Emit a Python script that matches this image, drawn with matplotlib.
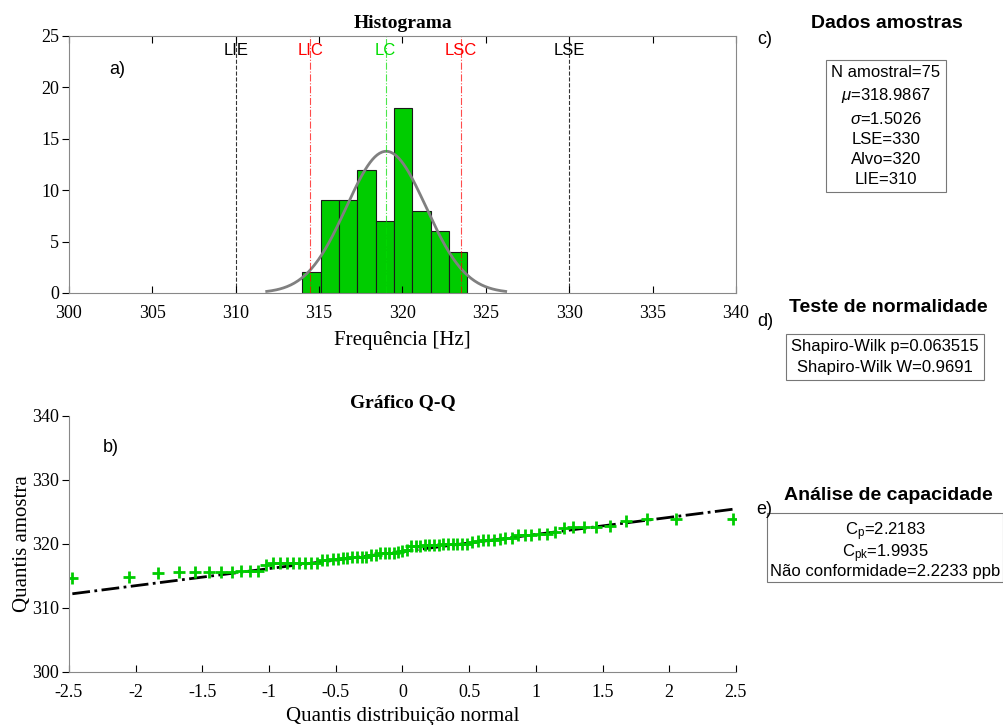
import numpy as np
import matplotlib
matplotlib.use('Agg')
import matplotlib.pyplot as plt
from statistics import NormalDist

plt.rcParams['mathtext.fontset'] = 'custom'
plt.rcParams['mathtext.rm'] = 'Liberation Sans'
plt.rcParams['mathtext.it'] = 'Liberation Sans:italic'

serif = 'Liberation Serif'
sans = 'Liberation Sans'

# sorted sample values (Hz)
amostras = [314.60, 314.84, 315.37, 315.60, 315.60, 315.60, 315.60, 315.60,
            315.75, 315.75, 315.75, 316.65, 316.93, 316.93, 316.93, 316.93,
            316.95, 316.97, 316.97, 317.00, 317.45, 317.45, 317.60, 317.60,
            317.75, 317.75, 317.90, 317.90, 318.00, 318.00, 318.20, 318.30,
            318.50, 318.50, 318.50, 318.50, 318.70, 318.90, 319.10, 319.60,
            319.70, 319.70, 319.75, 319.75, 319.80, 319.80, 319.90, 319.90,
            319.90, 319.90, 319.95, 320.00, 320.30, 320.50, 320.55, 320.58,
            320.59, 320.80, 320.85, 320.85, 321.36, 321.36, 321.40, 321.60,
            321.60, 321.80, 322.40, 322.66, 322.66, 322.66, 322.75, 323.60,
            323.80, 323.80, 323.86]
bin_edges = [314.0, 315.1, 316.2, 317.3, 318.4, 319.5, 320.6, 321.7, 322.8, 323.9]

media = 318.9867
sigma = 1.5026
lse, alvo, lie = 330, 320, 310
limites = ['LIE', 'LIC', 'LC', 'LSC', 'LSE']
limites_val = [lie, media - 3 * sigma, media, media + 3 * sigma, lse]
limites_cor = ['black', '#ff0000', '#00dd00', '#ff0000', 'black']
limites_ls = ['--', '-.', '-.', '-.', '--']

dados_txt = ['N amostral=75', r'$\mu$=318.9867', r'$\sigma$=1.5026',
             'LSE=330', 'Alvo=320', 'LIE=310']
normal_txt = ['Shapiro-Wilk p=0.063515', 'Shapiro-Wilk W=0.9691']
cap_txt = [r'C$_\mathregular{p}$=2.2183', r'C$_\mathregular{pk}$=1.9935',
           'Não conformidade=2.2233 ppb']

x = np.array(amostras)
n = len(x)

fig = plt.figure(figsize=(10.04, 7.25), dpi=100)

# ---- a) histograma
ax1 = fig.add_axes([0.0687, 0.5959, 0.6643, 0.3545])
ax1.hist(x, bins=bin_edges, color='#00cc00', edgecolor='#1a1a1a', linewidth=0.8)
s = x.std(ddof=1)
m = x.mean()
xc = np.linspace(m - 3 * s, m + 3 * s, 200)
bw = bin_edges[1] - bin_edges[0]
pdf = n * bw / (s * np.sqrt(2 * np.pi)) * np.exp(-0.5 * ((xc - m) / s) ** 2)
ax1.plot(xc, pdf, color='#808080', lw=2)
for nome, v, c, ls in zip(limites, limites_val, limites_cor, limites_ls):
    ax1.axvline(v, color=c, ls=ls, lw=0.8, alpha=0.7 if c != 'black' else 0.8)
    ax1.text(v, 23.6, nome, color=c, ha='center', va='center', fontsize=12, family=sans)
ax1.text(302.9, 21.7, 'a)', fontsize=13, family=sans, ha='center', va='center')
ax1.set_xlim(300, 340)
ax1.set_ylim(0, 25)
ax1.set_xticks(range(300, 341, 5))
ax1.set_yticks(range(0, 26, 5))
ax1.set_title('Histograma', family=serif, fontsize=14, fontweight='bold', pad=6)
ax1.set_xlabel('Frequência [Hz]', family=serif, fontsize=15, labelpad=6)
ax1.tick_params(axis='x', direction='in', top=True, length=5, pad=9)
ax1.tick_params(axis='y', direction='out', length=5, pad=2)
for sp in ax1.spines.values():
    sp.set_color('#888888')
    sp.set_linewidth(0.8)

# ---- b) grafico Q-Q
ax2 = fig.add_axes([0.0687, 0.0735, 0.6643, 0.353])
nd = NormalDist()
q = np.array([nd.inv_cdf((i - 0.5) / n) for i in range(1, n + 1)])
q1, q3 = np.percentile(x, [25, 75])
z1, z3 = nd.inv_cdf(0.25), nd.inv_cdf(0.75)
slope = (q3 - q1) / (z3 - z1)
inter = q1 - slope * z1
xl = np.array([q[0], q[-1]])
ax2.plot(xl, inter + slope * xl, color='black', ls='-.', lw=2)
ax2.plot(q, x, '+', color='#00cc00', ms=8, mew=2)
ax2.text(-2.185, 335.0, 'b)', fontsize=13, family=sans, ha='center', va='center')
ax2.set_xlim(-2.5, 2.5)
ax2.set_ylim(300, 340)
ax2.set_xticks(np.arange(-2.5, 2.51, 0.5))
ax2.set_xticklabels(['-2.5', '-2', '-1.5', '-1', '-0.5', '0', '0.5', '1', '1.5', '2', '2.5'])
ax2.set_yticks(range(300, 341, 10))
ax2.set_title('Gráfico Q-Q', family=serif, fontsize=14, fontweight='bold', pad=6)
ax2.set_xlabel('Quantis distribuição normal', family=serif, fontsize=15, labelpad=4)
ax2.set_ylabel('Quantis amostra', family=serif, fontsize=15, labelpad=0)
ax2.tick_params(axis='x', direction='in', length=5, pad=9)
ax2.tick_params(axis='y', direction='out', length=5, pad=2)
ax2.spines['top'].set_visible(False)
ax2.spines['right'].set_visible(False)
for sp in ax2.spines.values():
    sp.set_color('#888888')
    sp.set_linewidth(0.8)

for ax in (ax1, ax2):
    for lab in ax.get_xticklabels() + ax.get_yticklabels():
        lab.set_family(serif)
        lab.set_fontsize(13)

# ---- c), d), e) caixas de texto
W, H = 1004, 725


def fx(px):
    return px / W


def fy(py):
    return 1 - py / H


box = dict(boxstyle='square,pad=0.3', facecolor='white', edgecolor='#777777', linewidth=0.8)

fig.text(fx(887), fy(24), 'Dados amostras', family=sans, fontsize=14, fontweight='bold',
         ha='center', va='center')
fig.text(fx(765), fy(39), 'c)', family=sans, fontsize=13, ha='center', va='center')
fig.text(fx(886), fy(126), '\n'.join(dados_txt), family=sans, fontsize=12,
         ha='center', va='center', linespacing=1.42, bbox=box)

fig.text(fx(888), fy(308), 'Teste de normalidade', family=sans, fontsize=14,
         fontweight='bold', ha='center', va='center')
fig.text(fx(765), fy(322), 'd)', family=sans, fontsize=13, ha='center', va='center')
fig.text(fx(885), fy(357), '\n'.join(normal_txt), family=sans, fontsize=12,
         ha='center', va='center', linespacing=1.45, bbox=box)

fig.text(fx(888), fy(496), 'Análise de capacidade', family=sans, fontsize=14,
         fontweight='bold', ha='center', va='center')
fig.text(fx(885), fy(550), '\n'.join(cap_txt), family=sans, fontsize=12,
         ha='center', va='center', linespacing=0.95,
         bbox=dict(boxstyle='square,pad=0.15', facecolor='white',
                   edgecolor='#777777', linewidth=0.8))
fig.text(fx(764), fy(510), 'e)', family=sans, fontsize=13, ha='center', va='center',
         zorder=5)

fig.savefig('out.png', dpi=100)
